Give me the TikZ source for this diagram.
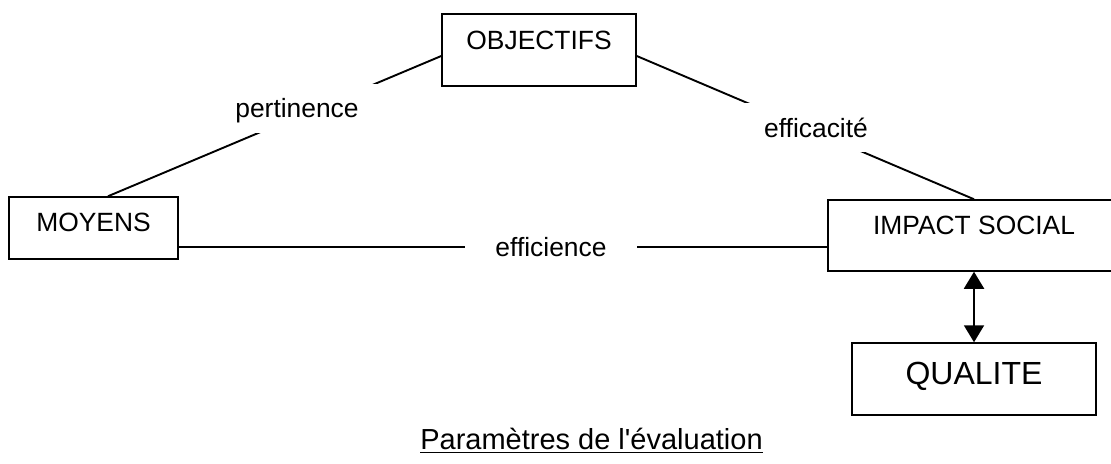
\documentclass[tikz,border=0pt]{standalone}
\usepackage{fontspec}
\setmainfont{Liberation Sans}
\usetikzlibrary{arrows.meta}
\begin{document}
\begin{tikzpicture}[x=0.5pt,y=-0.5pt,
  box/.style={draw,line width=0.75pt,inner sep=0pt,font=\fontsize{13.2}{15}\selectfont,text height=9.5pt},
  lbl/.style={fill=white,inner xsep=10pt,inner ysep=7.5pt,font=\fontsize{13.2}{15}\selectfont,text height=9.5pt,text depth=0pt},
  conn/.style={line width=0.95pt}]
\useasboundingbox (0,0) rectangle (1111,464);
\node[box,minimum width=97pt,minimum height=36pt,text depth=10pt] (obj) at (539,50) {OBJECTIFS};
\node[box,minimum width=84.5pt,minimum height=31pt,text depth=6pt] (moy) at (93.5,228) {MOYENS};
\node[box,minimum width=146pt,minimum height=35.5pt,text depth=10.5pt] (imp) at (974,235.5) {IMPACT SOCIAL};
\node[box,minimum width=122pt,minimum height=36pt,text depth=5.7pt,text height=11.5pt,font=\fontsize{16}{19}\selectfont] (qual) at (974,379) {QUALITE};
\draw[conn] ([yshift=-3pt]obj.west) -- ([xshift=7.25pt]moy.north);
\draw[conn] ([yshift=-3pt]obj.east) -- (imp.north);
\draw[line width=0.8pt] ([yshift=-9.5pt]moy.east) -- ([yshift=-5.75pt]imp.west);
\draw[line width=1pt,{Triangle[width=10pt,length=8.5pt]}-{Triangle[width=10pt,length=8.5pt]}] (imp.south) -- (qual.north);
\node[lbl] (pert) at (297,108.5) {pertinence};
\node[lbl] (effa) at (816,128) {efficacité};
\node[lbl,inner xsep=15pt,inner ysep=3pt] (effi) at (551,247) {efficience};
\node[font=\fontsize{14.5}{17}\selectfont,inner sep=0pt,text height=10.4pt,text depth=0pt] (title) at (591.5,439) {\underline{Paramètres de l\textquotesingle évaluation}};
\end{tikzpicture}
\end{document}
